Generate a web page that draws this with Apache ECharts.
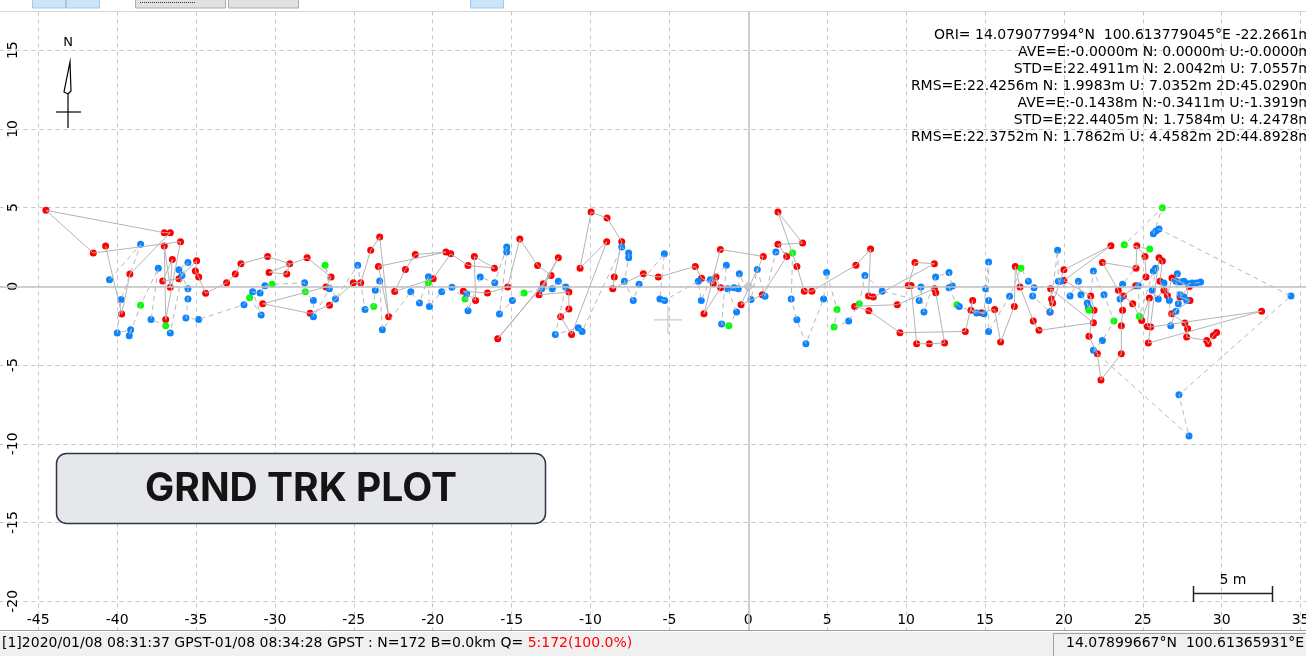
<!DOCTYPE html>
<html><head><meta charset="utf-8">
<script src="https://cdn.jsdelivr.net/npm/echarts@6/dist/echarts.min.js"></script>
<style>html,body{margin:0;padding:0;background:#fff;overflow:hidden}#c{width:1306px;height:656px}</style>
</head><body><div id="c"></div>
<script>
// ---- data (E, N in metres, relative to ORI) ----
const sol1 = [
[-40.73,2.56],[-39.71,-1.76],[-39.19,0.78],[-36.63,3.41],[-37.01,3.41],[-44.51,4.83],[-41.51,2.12],[-35.98,2.84],[-36.92,-2.10],[-37.01,2.56],[-36.63,-0.06],[-36.50,1.71],[-37.11,0.34],[-36.08,0.49],[-34.96,1.63],[-35.04,0.97],[-34.83,0.59],[-34.39,-0.44],[-33.06,0.23],[-32.51,0.78],[-32.15,1.44],[-30.46,1.90],[-29.06,1.44],[-29.25,0.78],[-30.37,0.89],[-27.96,1.82],[-26.44,0.59],[-26.76,-0.04],[-30.77,-1.10],[-27.77,-1.71],[-26.54,-1.19],
[-25.03,0.23],[-24.56,0.23],[-23.93,2.29],[-23.36,3.13],[-22.79,-1.93],[-23.44,1.27],[-19.16,2.18],[-21.10,2.03],[-21.73,1.08],[-22.41,-0.32],[-19.97,0.49],[-18.86,2.07],[-17.76,1.33],[-16.09,1.16],[-17.36,1.90],[-17.28,-0.89],[-18.06,-0.30],[-16.53,-0.42],[-15.25,-0.04],[-14.48,3.01],[-13.35,1.33],[-12.50,0.70],[-15.88,-3.32],[-12.99,0.17],[-12.04,1.82],[-13.26,-0.53],[-11.37,-0.36],[-11.37,-1.44],[-11.89,-1.93],[-11.20,-3.05],[-8.97,2.84],[-10.66,1.16],[-9.96,4.72],[-8.95,4.34],[-8.02,2.84],[-8.49,0.59],[-8.59,-0.15],[-6.65,0.80],
[-5.70,0.59],[-3.36,1.27],[-2.96,0.51],[-2.22,0.17],[-2.05,0.59],[-1.75,-0.08],[-2.81,-1.74],[-1.77,2.35],[0.95,1.90],[-0.46,-1.16],[0.89,-0.53],[2.43,1.90],[1.88,2.67],[3.44,2.75],[1.88,4.72],[3.08,1.27],[3.55,-0.30],[4.03,-0.30],[6.82,1.35],[7.75,2.37],[7.62,-0.61],[7.92,-0.68],[11.79,1.44],[10.56,1.52],[10.14,0.06],[10.31,0.06],[10.67,-3.64],[11.47,-3.64],[12.44,-3.60],[11.88,-0.40],[11.79,-0.15],[9.44,-1.16],[6.74,-1.27],[7.64,-1.54],[9.61,-2.94],[13.75,-2.86],
[14.22,-0.89],[14.11,-1.52],[14.79,-1.67],[15.61,-1.46],[15.99,-3.53],[16.86,-1.27],[16.92,1.27],[17.22,-0.04],[18.06,-2.20],[18.42,-2.79],[21.87,-2.31],[19.16,-0.15],[19.22,-0.80],[19.29,-1.06],[19.12,-1.63],[20.00,1.06],[22.98,2.58],[20.00,0.38],[21.70,-0.61],[21.91,-1.52],[21.59,-3.17],[22.12,-4.28],[22.35,-5.94],[23.64,-4.28],[23.64,-2.50],[23.72,-1.52],[23.45,-0.25],[22.44,1.52],[24.57,1.16],[24.62,2.58],[25.14,1.90],[25.20,0.59],[24.55,0.04],[23.77,-0.61],[24.36,-1.10],[24.93,-2.16],[25.42,-0.74],[25.29,-2.54],[25.50,-2.58],[32.53,-1.57],[25.35,-3.60],[26.03,1.82],[26.24,1.61],[26.09,0.32],[26.34,-0.25],[26.56,-0.57],[26.85,0.53],[27.95,0.00],[27.36,-0.68],[27.99,-0.89],[26.83,-1.74],[27.67,-2.33],[27.84,-2.69],[27.78,-3.22],[29.05,-3.43],[29.15,-3.64],[29.47,-3.11],[29.68,-2.92]
];
// solution 2: [E, N, Q]  (Q=1 fix -> green, Q=4 -> blue)
const sol2 = [
[-40.48,0.42,4],[-38.51,2.67,4],[-39.74,-0.83,4],[-39.99,-2.96,4],[-39.14,-2.75,4],[-39.23,-3.13,4],[-38.51,-1.19,1],[-37.39,1.16,4],[-37.85,-2.10,4],[-36.92,-2.50,1],[-36.63,-2.96,4],[-35.89,0.70,4],[-35.51,1.52,4],[-36.08,1.06,4],[-35.51,-0.15,4],[-35.51,-0.80,4],[-35.64,-2.01,4],[-34.83,-2.10,4],[-31.96,-1.16,4],[-31.60,-0.72,1],[-30.87,-1.82,4],[-31.41,-0.34,4],[-30.94,-0.42,4],[-30.63,0.04,4],[-30.18,0.13,1],[-28.12,0.23,4],[-28.07,-0.34,1],[-27.56,-0.89,4],[-27.56,-1.93,4],[-26.54,-0.15,4],[-26.82,1.35,1],[-26.16,-0.80,4],
[-24.75,1.35,4],[-24.29,-1.46,4],[-23.74,-1.27,1],[-23.64,-0.25,4],[-23.36,0.34,4],[-23.19,-2.75,4],[-21.39,-0.34,4],[-20.84,-1.06,4],[-20.27,0.61,4],[-20.27,0.23,1],[-20.21,-1.27,4],[-19.43,-0.34,4],[-18.78,-0.06,4],[-17.95,-0.80,1],[-17.85,-0.47,4],[-17.76,-1.54,4],[-16.99,0.59,4],[-16.07,0.23,4],[-15.31,2.50,4],[-15.31,2.18,4],[-15.77,-1.76,4],[-14.95,-0.89,4],[-14.21,-0.42,1],[-13.09,-0.15,4],[-12.42,-0.15,4],[-12.04,0.32,4],[-11.57,-0.04,4],[-12.23,-3.05,4],[-10.77,-2.62,4],[-10.53,-2.86,4],[-8.02,2.50,4],[-7.58,2.12,4],[-7.58,1.82,4],[-7.85,0.32,4],[-7.29,-0.89,4],[-6.92,0.13,4],
[-5.32,2.07,4],[-5.60,-0.80,4],[-5.30,-0.89,4],[-3.17,0.32,4],[-2.98,-0.89,4],[-2.41,0.42,4],[-1.39,1.35,4],[-1.69,-2.39,4],[-1.23,-2.50,1],[-0.74,-1.63,4],[-1.31,-0.15,4],[-0.91,-0.08,4],[-0.63,-0.15,4],[-0.57,0.80,4],[0.17,-0.83,4],[0.57,1.08,4],[1.06,-0.63,4],[1.75,2.18,4],[2.81,2.12,1],[2.72,-0.80,4],[3.08,-2.12,4],[3.65,-3.64,4],[4.77,-0.80,4],[4.96,0.89,4],[5.62,-1.46,1],[5.43,-2.58,1],[6.36,-2.20,4],[7.03,-1.10,1],[7.39,0.70,4],[8.49,-0.30,4],[10.83,-0.89,4],[10.94,-0.04,4],[11.13,-1.63,4],[11.87,0.59,4],[12.72,0.89,4],[12.93,0.02,4],[12.72,-0.08,4],[13.22,-1.16,1],[13.37,-1.27,4],
[14.47,-1.69,4],[14.94,-1.74,4],[15.04,-0.15,4],[15.23,1.55,4],[15.23,-0.89,4],[15.23,-2.86,4],[16.56,-0.63,4],[17.28,1.16,1],[17.75,0.32,4],[18.11,-0.08,4],[18.02,-0.61,4],[19.12,-1.63,4],[19.60,2.29,4],[19.65,0.32,4],[19.80,0.32,4],[20.39,-0.61,4],[20.92,0.32,4],[21.08,-0.53,4],[21.48,-1.06,4],[21.55,-1.31,4],[21.59,-1.52,1],[21.87,0.97,4],[22.54,-0.53,4],[23.17,-2.20,1],[22.44,-3.43,4],[21.87,-4.06,4],[27.93,-9.50,4],[27.29,-6.88,4],[34.39,-0.61,4],[26.03,3.64,4],[25.84,3.51,4],[25.67,3.34,4],[26.24,4.99,1],[23.83,2.65,1],[25.44,2.37,1],[23.72,0.13,4],[23.56,-0.80,4],[24.72,0.04,4],[24.78,-1.90,1],[25.67,0.97,4],[25.81,1.16,4],[25.60,-0.25,4],[25.98,-0.80,4],[26.34,0.21,4],[26.68,-0.89,4],[26.77,-2.50,4],[27.10,-1.57,4],[27.25,-1.10,4],[27.10,0.32,4],[27.19,0.80,4],[27.36,0.28,4],[27.61,0.32,4],[27.36,-0.53,4],[27.61,-0.68,4],[27.78,-0.89,4],[27.88,0.17,4],[28.14,0.21,4],[28.41,0.21,4],[28.66,0.28,4]
];
const originMark = [[0, 0]];
const avgCross = [[-5.09, -2.13]];
const infoLines = [
  'ORI= 14.079077994°N  100.613779045°E -22.2661m',
  'AVE=E:-0.0000m N: 0.0000m U:-0.0000m',
  'STD=E:22.4911m N: 2.0042m U: 7.0557m',
  'RMS=E:22.4256m N: 1.9983m U: 7.0352m 2D:45.0290m',
  'AVE=E:-0.1438m N:-0.3411m U:-1.3919m',
  'STD=E:22.4405m N: 1.7584m U: 4.2478m',
  'RMS=E:22.3752m N: 1.7862m U: 4.4582m 2D:44.8928m'
];
const statusMain = '[1]2020/01/08 08:31:37 GPST-01/08 08:34:28 GPST : N=172 B=0.0km Q= ';
const statusQ = '5:172(100.0%)';
const statusCoord = '14.07899667°N  100.61365931°E';
const titleText = 'GRND TRK PLOT';
const scaleText = '5 m';
const xRange = [-50, 40], yRange = [-25, 20], tickStep = 5;

// ---- layout ----
const W = 1306, H = 656;
const KX = 15.78, KY = 15.75, X0 = 748.3, Y0 = 286.4;
const gLeft = X0 + xRange[0] * KX;
const gRight = W - (X0 + xRange[1] * KX);
const gTop = Y0 - yRange[1] * KY;
const gBottom = H - (Y0 - yRange[0] * KY);
const plotBottom = 630;
const FONT = 'DejaVu Sans';

const colQ = {1: '#00ff00', 4: '#0a84ff', 5: '#ff0000'};
const crossPath = 'path://M0,13.4H28V14.6H0Z M13.4,0H14.6V28H13.4Z';

const chart = echarts.init(document.getElementById('c'), null, {renderer: 'canvas'});
const graphic = [];
// info text (top-right)
infoLines.forEach((t, i) => graphic.push({type: 'text', z: 50,
  style: {text: t, x: 1312, y: 35 + i * 17, align: 'right', verticalAlign: 'middle', font: '14px "' + FONT + '"', fill: '#000'}}));
// north arrow
graphic.push({type: 'text', z: 50, style: {text: 'N', x: 68, y: 43, align: 'center', verticalAlign: 'middle', font: '13px "' + FONT + '"', fill: '#000'}});
graphic.push({type: 'polyline', z: 50, shape: {points: [[68, 128], [68, 94], [64, 92], [70, 62], [71, 91], [68, 94]]}, style: {stroke: '#000', lineWidth: 1.2, fill: null}});
graphic.push({type: 'line', z: 50, shape: {x1: 56, y1: 112, x2: 81, y2: 112}, style: {stroke: '#000', lineWidth: 1.2}});
// scale bar
graphic.push({type: 'polyline', z: 50, shape: {points: [[1193.5, 586], [1193.5, 602]]}, style: {stroke: '#222', lineWidth: 1.5}});
graphic.push({type: 'polyline', z: 50, shape: {points: [[1272.5, 586], [1272.5, 602]]}, style: {stroke: '#222', lineWidth: 1.5}});
graphic.push({type: 'line', z: 50, shape: {x1: 1193.5, y1: 593.5, x2: 1272.5, y2: 593.5}, style: {stroke: '#222', lineWidth: 1.5}});
graphic.push({type: 'text', z: 50, style: {text: scaleText, x: 1233, y: 580, align: 'center', verticalAlign: 'middle', font: '14px "' + FONT + '"', fill: '#000'}});
// title box
graphic.push({type: 'rect', z: 60, shape: {x: 56.5, y: 453.5, width: 489, height: 70, r: 10}, style: {fill: '#e6e7ea', stroke: '#2c3648', lineWidth: 1.5}});
graphic.push({type: 'text', z: 61, style: {text: titleText, x: 301, y: 489, align: 'center', verticalAlign: 'middle', font: 'bold 39px Inter', fill: '#141414'}});
// top toolbar strip
graphic.push({type: 'rect', z: 80, shape: {x: 0, y: 0, width: W, height: 11}, style: {fill: '#ffffff'}});
graphic.push({type: 'line', z: 81, shape: {x1: 0, y1: 11.5, x2: W, y2: 11.5}, style: {stroke: '#d6d6d6', lineWidth: 1}});
[[32, 33], [66, 33], [470, 33]].forEach(b => graphic.push({type: 'rect', z: 81, shape: {x: b[0] + 0.5, y: -1, width: b[1], height: 9}, style: {fill: '#cce4f7', stroke: '#9ccaf0', lineWidth: 1}}));
[[135, 90], [228, 70]].forEach(b => graphic.push({type: 'rect', z: 81, shape: {x: b[0] + 0.5, y: -2, width: b[1], height: 10}, style: {fill: '#e1e1e1', stroke: '#adadad', lineWidth: 1}}));
graphic.push({type: 'line', z: 82, shape: {x1: 140, y1: 2.5, x2: 196, y2: 2.5}, style: {stroke: '#333', lineWidth: 1, lineDash: [1, 1]}});
// status bar
graphic.push({type: 'rect', z: 80, shape: {x: 0, y: plotBottom, width: W, height: H - plotBottom}, style: {fill: '#f0f0f0'}});
graphic.push({type: 'line', z: 81, shape: {x1: 0, y1: plotBottom + 0.5, x2: W, y2: plotBottom + 0.5}, style: {stroke: '#a0a0a0', lineWidth: 1}});
graphic.push({type: 'line', z: 81, shape: {x1: 0, y1: plotBottom + 1.5, x2: W, y2: plotBottom + 1.5}, style: {stroke: '#ffffff', lineWidth: 1}});
graphic.push({type: 'polyline', z: 81, shape: {points: [[1053.5, 656], [1053.5, 633.5], [1306, 633.5]]}, style: {stroke: '#a0a0a0', lineWidth: 1, fill: null}});
graphic.push({type: 'text', z: 82, style: {text: '{a|' + statusMain + '}{b|' + statusQ + '}', x: 2, y: 643, verticalAlign: 'middle',
  rich: {a: {font: '14px "' + FONT + '"', fill: '#000'}, b: {font: '14px "' + FONT + '"', fill: '#ff0000'}}}});
graphic.push({type: 'text', z: 82, style: {text: statusCoord, x: 1066, y: 643, verticalAlign: 'middle', font: '14px "' + FONT + '"', fill: '#000'}});

const splitStyle = {color: '#c6c6c6', width: 1, type: [4, 4]};
chart.setOption({
  animation: false,
  backgroundColor: '#ffffff',
  grid: {left: gLeft, right: gRight, top: gTop, bottom: gBottom, containLabel: false, outerBoundsMode: 'none', show: false},
  xAxis: {type: 'value', min: xRange[0], max: xRange[1], interval: tickStep, position: 'bottom',
    offset: -(H - gBottom - plotBottom),
    axisLine: {show: false}, axisTick: {show: false},
    axisLabel: {inside: true, margin: 3, color: '#000', fontSize: 14, fontFamily: FONT},
    splitLine: {show: true, lineStyle: splitStyle}},
  yAxis: {type: 'value', min: yRange[0], max: yRange[1], interval: tickStep, position: 'left',
    offset: -(22 - gLeft),
    axisLine: {show: false}, axisTick: {show: false},
    axisLabel: {rotate: 90, margin: 2, color: '#000', fontSize: 14, fontFamily: FONT},
    splitLine: {show: true, lineStyle: splitStyle}},
  graphic: graphic,
  series: [
    {type: 'scatter', data: originMark, symbolSize: 0, silent: true,
      markLine: {silent: true, symbol: ['none', 'none'], label: {show: false},
        lineStyle: {color: '#c2c2c2', type: 'solid', width: 1.5},
        data: [{xAxis: 0}, {yAxis: 0}]}},
    {type: 'line', data: sol1, showSymbol: false, silent: true,
      lineStyle: {color: '#b4b4b4', width: 1}},
    {type: 'line', data: sol2.map(p => [p[0], p[1]]), showSymbol: false, silent: true,
      lineStyle: {color: '#b8b8b8', width: 1, type: [5, 4]}},
    {type: 'scatter', data: originMark, symbol: 'diamond', symbolSize: 11, silent: true,
      itemStyle: {color: '#c0c0c0'}},
    {type: 'scatter', data: avgCross, symbol: crossPath, symbolSize: 28, silent: true,
      itemStyle: {color: '#bdbdbd'}},
    {type: 'scatter', data: sol1, symbol: 'circle', symbolSize: 7, silent: true,
      itemStyle: {color: colQ[5], opacity: 1}},
    {type: 'scatter', data: sol2, symbol: 'circle', symbolSize: 7, silent: true,
      itemStyle: {color: p => colQ[p.data[2]], opacity: 1}}
  ]
});
</script></body></html>
